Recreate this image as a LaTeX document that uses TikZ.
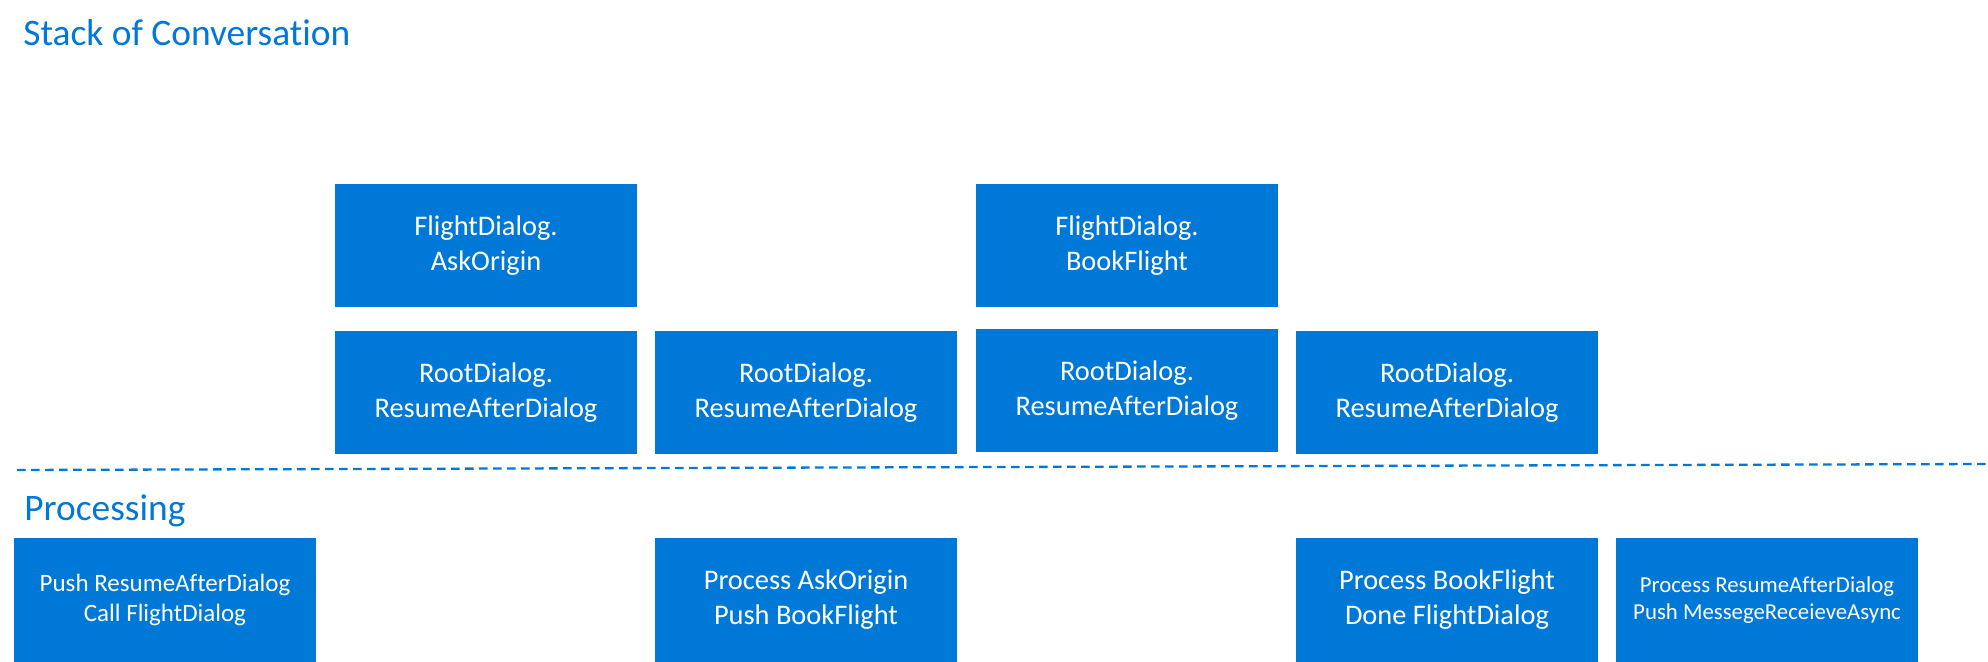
\documentclass[tikz,border=0pt]{standalone}
\usepackage{fontspec}
\setmainfont[RawFeature=-liga]{Carlito}
\usepackage{tikz}
\definecolor{msblue}{HTML}{0078D7}

\begin{document}
\begin{tikzpicture}[x=.5pt,y=-.5pt,
    blk/.style={fill=msblue,text=white,inner sep=0pt,align=center,
        minimum width=151pt,minimum height=61.5pt,
        font=\fontsize{14.2}{17.5}\selectfont},
    head/.style={anchor=base west,inner sep=0pt,text=msblue,
        font=\fontsize{18.7}{22}\selectfont}]
    \useasboundingbox (0,0) rectangle (1988,662);
    % section titles
    \node[head] (stack) at (23,46) {Stack of Conversation};
    \node[head] (proc) at (24,521) {Processing};
    % stack of conversation
    \foreach \n/\p/\t in {
        ask/{486,245.5}/{FlightDialog.\\AskOrigin},
        book/{1127,245.5}/{FlightDialog.\\BookFlight},
        rootA/{486,392.5}/{RootDialog.\\ResumeAfterDialog},
        rootB/{806,392.5}/{RootDialog.\\ResumeAfterDialog},
        rootC/{1127,391}/{RootDialog.\\ResumeAfterDialog},
        rootD/{1447,392.5}/{RootDialog.\\ResumeAfterDialog}}
        \node[blk] (\n) at (\p) {\t};
    % separator
    \coordinate (sepL) at (17,470);
    \coordinate (sepR) at (1988,464);
    \draw[msblue,line width=1.15pt,dash pattern=on 4.35pt off 2.65pt] (sepL)--(sepR);
    % processing
    \node[blk,font=\fontsize{12.5}{15.3}\selectfont] (push) at (165,600) {Push ResumeAfterDialog\\Call FlightDialog};
    \foreach \n/\p/\t in {
        procAsk/{806,600}/{Process AskOrigin\\Push BookFlight},
        procBook/{1447,600}/{Process BookFlight\\Done FlightDialog}}
        \node[blk] (\n) at (\p) {\t};
    \node[blk,font=\fontsize{11.4}{13.2}\selectfont] (procResume) at (1767,600) {Process ResumeAfterDialog\\Push MessegeReceieveAsync};
\end{tikzpicture}
\end{document}
